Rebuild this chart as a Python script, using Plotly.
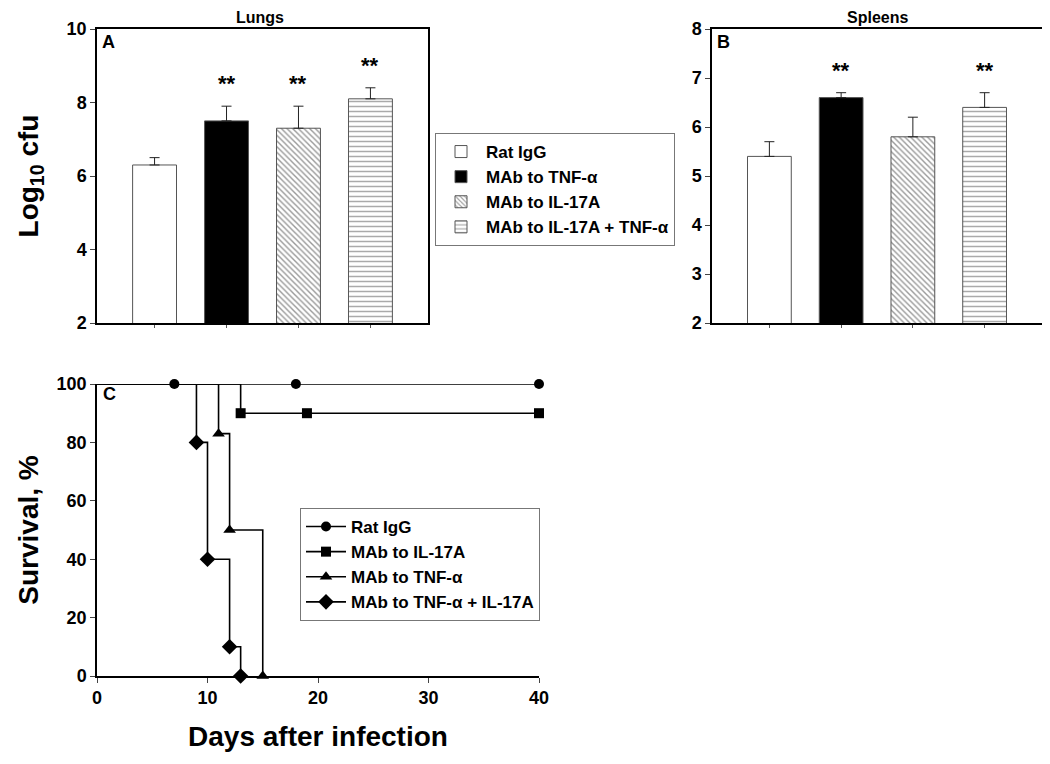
import plotly.graph_objects as go

# ---------------- data ----------------
groups = ["Rat IgG", "MAb to TNF-α", "MAb to IL-17A", "MAb to IL-17A + TNF-α"]
lungs_mean = [6.3, 7.5, 7.3, 8.1]
lungs_err = [0.2, 0.4, 0.6, 0.3]
lungs_sig = ["", "**", "**", "**"]
spleens_mean = [5.4, 6.6, 5.8, 6.4]
spleens_err = [0.3, 0.1, 0.4, 0.3]
spleens_sig = ["", "**", "", "**"]

surv_names = ["Rat IgG", "MAb to IL-17A", "MAb to TNF-α", "MAb to TNF-α + IL-17A"]
surv_start_day = 0
surv_start_pct = 100
surv_days = [
    [7, 18, 40],
    [13, 19, 40],
    [11, 12, 15],
    [9, 10, 12, 13],
]
surv_pct = [
    [100, 100, 100],
    [90, 90, 90],
    [83, 50, 0],
    [80, 40, 10, 0],
]

x_ticks_days = [0, 10, 20, 30, 40]
y_ticks_surv = [0, 20, 40, 60, 80, 100]

# ---------------- styles ----------------
FONT = "Liberation Sans, Arial, sans-serif"
W, H = 1050, 764
OFF = 8  # page body margin
surv_symbols = ["circle", "square", "triangle-up", "diamond"]
surv_msize = [10, 10, 11, 12]
bar_styles = [
    dict(color="white", pattern=None),
    dict(color="black", pattern=None),
    dict(color="white", pattern=dict(shape="\\", fgcolor="#333", bgcolor="white", size=4, solidity=0.35)),
    dict(color="white", pattern=dict(shape="-", fgcolor="#555", bgcolor="white", size=5, solidity=0.3)),
]


def px_x(p):
    return (p - OFF) / W


def px_y(p):
    return 1 - (p - OFF) / H


fig = go.Figure()

# Bar panels A and B
for i, g in enumerate(groups):
    st = bar_styles[i]
    for (xa, ya, vals, errs, show) in [("x", "y", lungs_mean, lungs_err, True),
                                       ("x2", "y2", spleens_mean, spleens_err, False)]:
        marker = dict(color=st["color"], line=dict(color="#555", width=1))
        if st["pattern"]:
            marker["pattern"] = st["pattern"]
        fig.add_trace(go.Bar(
            x=[g], y=[vals[i]], name=g, xaxis=xa, yaxis=ya,
            width=0.61, showlegend=show, legend="legend",
            marker=marker,
            error_y=dict(type="data", array=[errs[i]], arrayminus=[0], symmetric=False,
                         color="#222", thickness=1, width=5),
        ))

# Significance stars
for (xr, yr, vals, errs, sig) in [("x", "y", lungs_mean, lungs_err, lungs_sig),
                                  ("x2", "y2", spleens_mean, spleens_err, spleens_sig)]:
    for i, g in enumerate(groups):
        if sig[i]:
            fig.add_annotation(x=g, y=vals[i] + errs[i], xref=xr, yref=yr, text=sig[i],
                               showarrow=False, yanchor="bottom", yshift=8,
                               font=dict(family=FONT, size=22, color="black", weight="bold"))

# Survival panel C
for k, (name, d, p) in enumerate(zip(surv_names, surv_days, surv_pct)):
    line = dict(shape="hv", color="black", width=1.6)
    # initial segment from start of study to first event
    fig.add_trace(go.Scatter(
        x=[surv_start_day, d[0]], y=[surv_start_pct, p[0]], mode="lines",
        xaxis="x3", yaxis="y3", line=line, showlegend=False, hoverinfo="skip",
        cliponaxis=False,
    ))
    fig.add_trace(go.Scatter(
        x=d, y=p, name=name, xaxis="x3", yaxis="y3", mode="lines+markers",
        line=line,
        marker=dict(symbol=surv_symbols[k], size=surv_msize[k], color="black",
                    line=dict(color="black", width=0)),
        cliponaxis=False, legend="legend2",
    ))

tickfont = dict(family=FONT, size=18, color="black", weight="bold")
titlefont = dict(family=FONT, size=28, color="black", weight="bold")

common_box = dict(showline=True, linecolor="black", linewidth=1.5, mirror=True,
                  showgrid=False, zeroline=False, automargin=False)
open_ax = dict(showline=True, linecolor="black", linewidth=1.5, showgrid=False,
               zeroline=False, automargin=False)

fig.update_layout(
    width=W, height=H,
    margin=dict(l=0, r=0, t=0, b=0, autoexpand=False),
    paper_bgcolor="white", plot_bgcolor="white",
    barmode="overlay",
    font=dict(family=FONT, color="black"),
    xaxis=dict(domain=[px_x(97), px_x(428)], anchor="y", range=[-0.8, 3.8],
               categoryorder="array", categoryarray=groups, showticklabels=False,
               ticks="outside", ticklen=3, tickcolor="#555", **common_box),
    yaxis=dict(domain=[px_y(323), px_y(29)], anchor="x", range=[2, 10], dtick=2,
               ticks="outside", ticklen=5, tickfont=tickfont,
               title=dict(text="Log<sub>10</sub> cfu", font=titlefont, standoff=20),
               **common_box),
    xaxis2=dict(domain=[px_x(712), px_x(1042)], anchor="y2", range=[-0.8, 3.8],
                categoryorder="array", categoryarray=groups, showticklabels=False,
                ticks="outside", ticklen=3, tickcolor="#555", **common_box),
    yaxis2=dict(domain=[px_y(323), px_y(29)], anchor="x2", range=[2, 8], dtick=1,
                ticks="outside", ticklen=5, tickfont=tickfont, **common_box),
    xaxis3=dict(domain=[px_x(97), px_x(539)], anchor="y3", range=[0, 40],
                tickvals=x_ticks_days, ticks="outside", ticklen=5, tickfont=tickfont,
                title=dict(text="Days after infection", font=titlefont, standoff=19),
                **open_ax),
    yaxis3=dict(domain=[px_y(676), px_y(384)], anchor="x3", range=[0, 100],
                tickvals=y_ticks_surv, ticks="outside", ticklen=5, tickfont=tickfont,
                title=dict(text="Survival, %", font=titlefont, standoff=10),
                **open_ax),
    legend=dict(x=px_x(435), y=px_y(133), xanchor="left", yanchor="top",
                bordercolor="#777", borderwidth=1, bgcolor="white",
                font=dict(family=FONT, size=17, color="black", weight="bold"),
                itemwidth=40, tracegroupgap=0),
    legend2=dict(x=px_x(300), y=px_y(508), xanchor="left", yanchor="top",
                 bordercolor="#777", borderwidth=1, bgcolor="white",
                 font=dict(family=FONT, size=17, color="black", weight="bold"),
                 itemwidth=40, tracegroupgap=0),
)

# Titles and panel labels
for txt, x, y, size in [("Lungs", 260, 17, 16), ("Spleens", 877, 17, 16)]:
    fig.add_annotation(text=txt, x=px_x(x), y=px_y(y), xref="paper", yref="paper",
                       xanchor="center", yanchor="middle", showarrow=False,
                       font=dict(family=FONT, size=size, color="black", weight="bold"))
for txt, x, y in [("A", 100, 42), ("B", 715, 42), ("C", 101, 394)]:
    fig.add_annotation(text=txt, x=px_x(x), y=px_y(y), xref="paper", yref="paper",
                       xanchor="left", yanchor="middle", showarrow=False,
                       font=dict(family=FONT, size=18, color="black", weight="bold"))

fig.write_html("out.html")
